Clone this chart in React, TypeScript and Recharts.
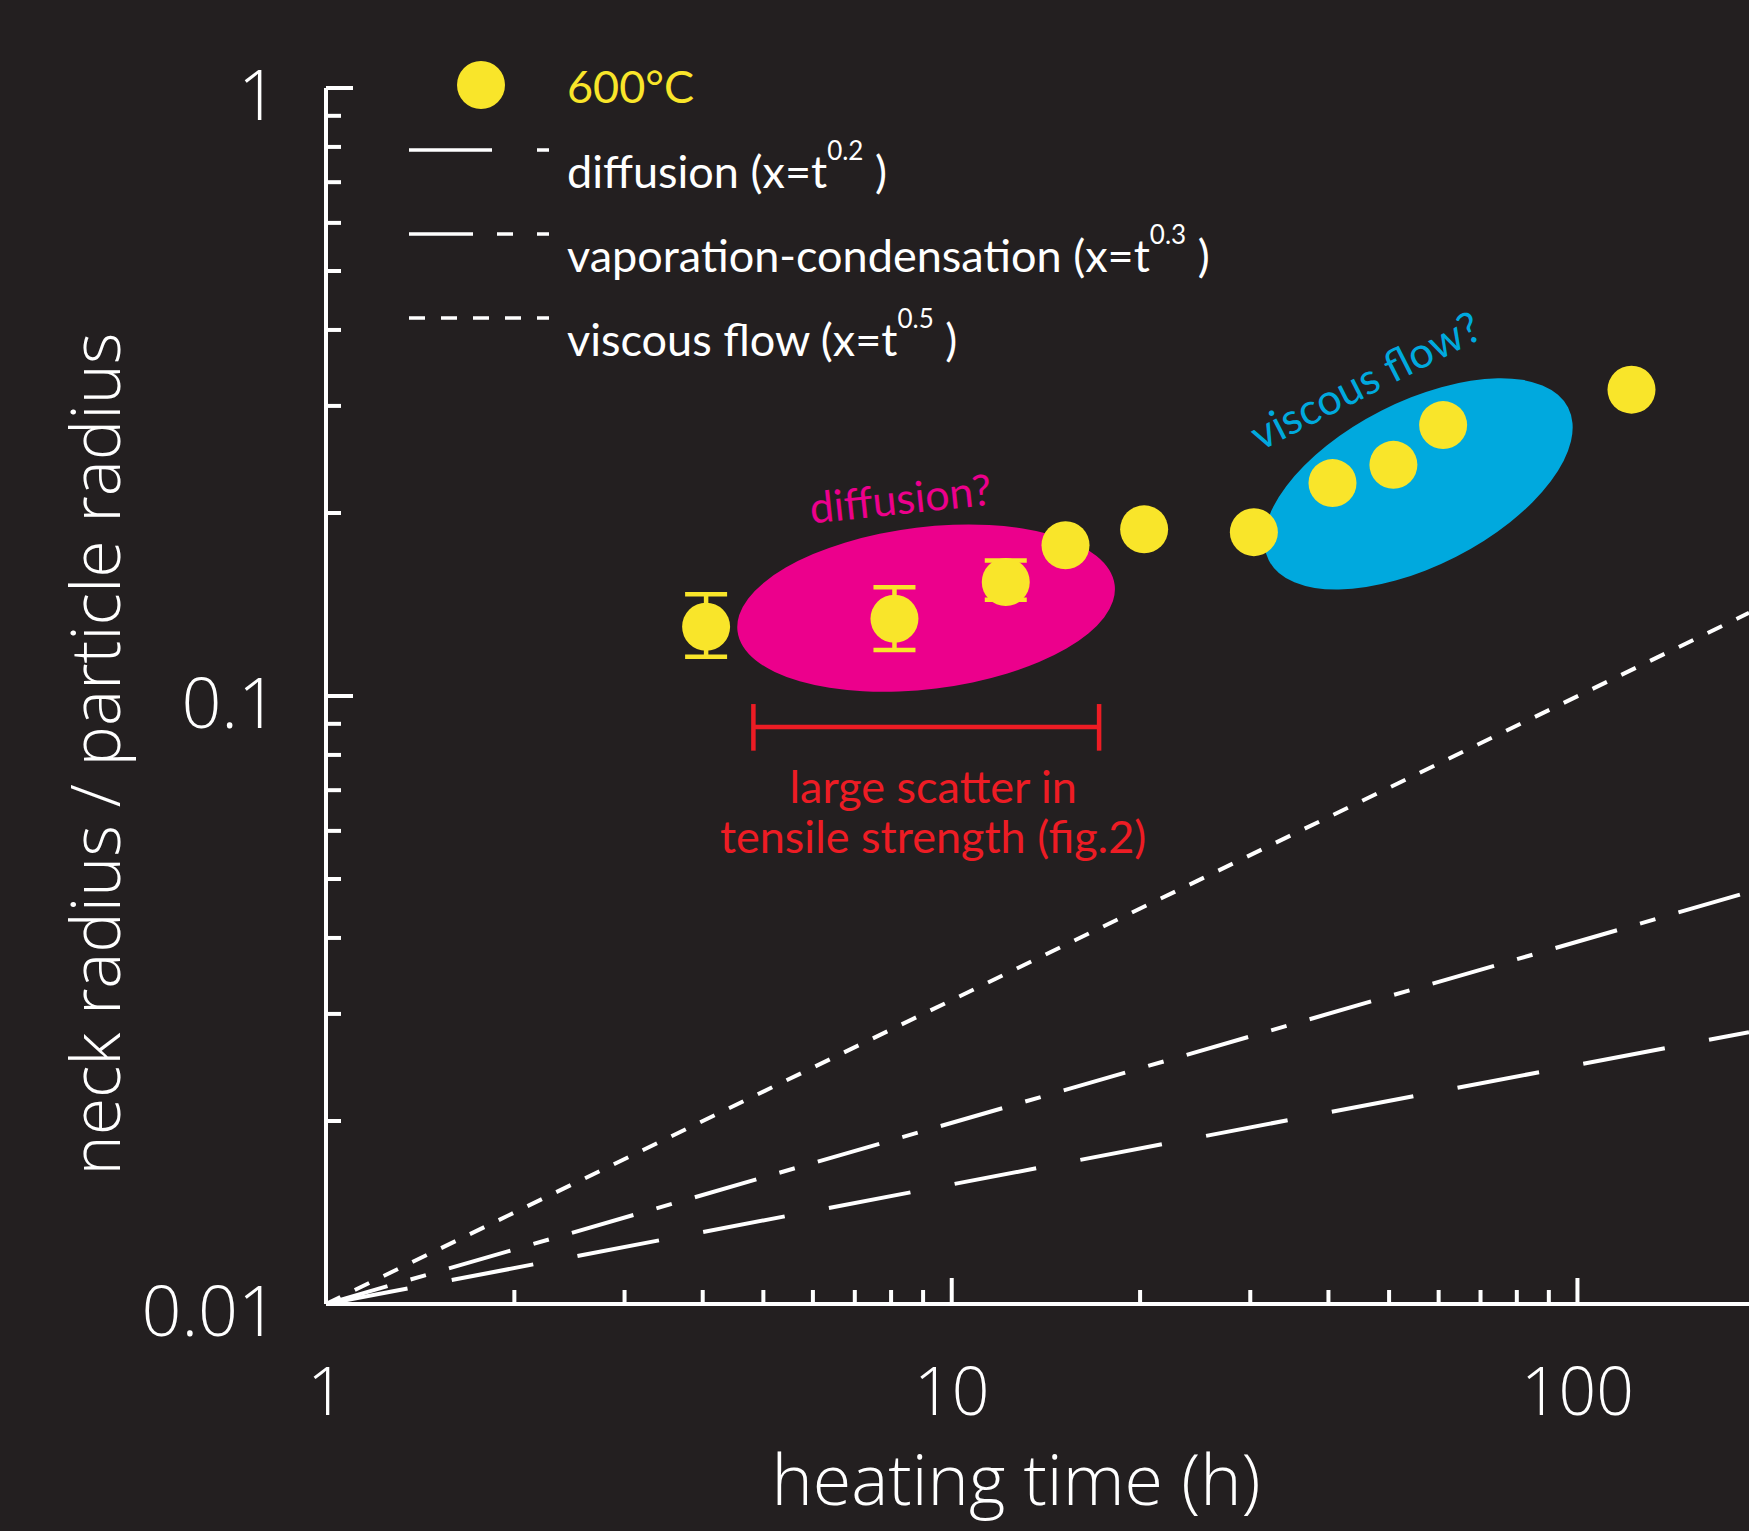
import React from 'react';
import {
  ComposedChart,
  XAxis,
  YAxis,
  Line,
  Scatter,
  ErrorBar,
  ReferenceLine,
  ReferenceDot,
  Legend,
} from 'recharts';

const BG = '#231f20';
const YELLOW = '#f9e52a';
const PINK = '#ec008c';
const CYAN = '#00a9de';
const RED = '#ed1c24';
const AXIS_FONT = '"Open Sans", "Noto Sans", sans-serif';
const NOTE_FONT = 'Lato, "Open Sans", sans-serif';

// 600°C points that carry an error bar
const errTime = [4.05, 8.1, 12.2];
const errRatio = [0.13, 0.134, 0.154];
const errLow = [0.014, 0.015, 0.01];
const errHigh = [0.017, 0.017, 0.013];

// 600°C points without error bar
const heatTime = [15.2, 20.3, 30.4, 40.6, 50.8, 61, 122];
const neckRatio = [0.177, 0.188, 0.186, 0.224, 0.24, 0.279, 0.319];

// model lines, read at both ends of the plot
const lineTime = [1, 188];
const diffusionRatio = [0.01, 0.028];
const vaporRatio = [0.01, 0.0476];
const viscousRatio = [0.01, 0.137];

// highlighted regions (centres) and annotation anchors
const regionTime = [9.1, 55.7];
const regionRatio = [0.1395, 0.2233];
const scatterRange = [4.82, 17.2];
const scatterLevel = 0.0889;
const scatterCap = [0.0813, 0.097];

const xTicks = [1, 2, 3, 4, 5, 6, 7, 8, 9, 10, 20, 30, 40, 50, 60, 70, 80, 90, 100];
const yTicks = [
  0.01, 0.02, 0.03, 0.04, 0.05, 0.06, 0.07, 0.08, 0.09,
  0.1, 0.2, 0.3, 0.4, 0.5, 0.6, 0.7, 0.8, 0.9, 1,
];

const legendNames = ['diffusion', 'vaporation-condensation', 'viscous flow'];
const legendExps = ['0.2', '0.3', '0.5'];
const dashes = ['83 45', '64 24 16 24', '16 16'];

const errData = errTime.map((t, i) => ({ t, r: errRatio[i], err: [errLow[i], errHigh[i]] }));
const pointData = heatTime.map((t, i) => ({ t, r: neckRatio[i] }));
const toLine = (vals: number[]) => lineTime.map((t, i) => ({ t, r: vals[i] }));
const modelLines = [toLine(diffusionRatio), toLine(vaporRatio), toLine(viscousRatio)];

const isMajor = (v: number) => Math.abs(Math.log10(v) - Math.round(Math.log10(v))) < 1e-6;

const XTick = (props: any) => {
  const { x, y, payload } = props;
  const major = isMajor(payload.value);
  return (
    <g>
      <line x1={x} y1={y} x2={x} y2={y - (major ? 26 : 14)} stroke="#fff" strokeWidth={4} />
      {major && (
        <text x={x} y={y + 111} textAnchor="middle" fill="#fff" fontSize={66} fontWeight={300} fontFamily={AXIS_FONT}>
          {String(payload.value)}
        </text>
      )}
    </g>
  );
};

const YTick = (props: any) => {
  const { x, y, payload } = props;
  const major = isMajor(payload.value);
  return (
    <g>
      <line x1={x} y1={y} x2={x + (major ? 27 : 15)} y2={y} stroke="#fff" strokeWidth={4} />
      {major && (
        <text x={x - 48} y={y + 32} textAnchor="end" fill="#fff" fontSize={70} fontWeight={300} fontFamily={AXIS_FONT}>
          {String(payload.value)}
        </text>
      )}
    </g>
  );
};

const XTitle = () => (
  <text x={1016} y={1505} textAnchor="middle" fill="#fff" fontSize={70} fontWeight={300} fontFamily={AXIS_FONT}>
    heating time (h)
  </text>
);

const YTitle = () => (
  <text
    x={120}
    y={754}
    transform="rotate(-90 120 754)"
    textAnchor="middle"
    fill="#fff"
    fontSize={68}
    fontWeight={300}
    fontFamily={AXIS_FONT}
  >
    neck radius / particle radius
  </text>
);

const LegendBox = () => (
  <svg width={1400} height={380} style={{ display: 'block' }}>
    <circle cx={481} cy={85} r={24} fill={YELLOW} />
    <text x={567} y={103} fill={YELLOW} fontSize={45} fontFamily={NOTE_FONT}>
      600°C
    </text>
    {legendNames.map((name, i) => {
      const y = 150 + i * 84;
      return (
        <g key={name}>
          <line x1={409} x2={549} y1={y} y2={y} stroke="#fff" strokeWidth={3.5} strokeDasharray={dashes[i]} />
          <text x={567} y={y + 38} fill="#fff" fontSize={45} fontFamily={NOTE_FONT}>
            {name} (x=t
            <tspan dy={-28} fontSize={26}>{legendExps[i]}</tspan>
            <tspan dy={28}> )</tspan>
          </text>
        </g>
      );
    })}
  </svg>
);

const ellipseShape = (rx: number, ry: number, angle: number, fill: string) => (props: any) => (
  <ellipse
    cx={props.cx}
    cy={props.cy}
    rx={rx}
    ry={ry}
    fill={fill}
    transform={`rotate(${angle} ${props.cx} ${props.cy})`}
  />
);

const dotShape = (props: any) => <circle cx={props.cx} cy={props.cy} r={24} fill={YELLOW} />;

const note = (lines: string[], color: string, angle: number, size: number) => (props: any) => (
  <text
    x={props.cx}
    y={props.cy}
    textAnchor="middle"
    fill={color}
    fontSize={size}
    fontFamily={NOTE_FONT}
    transform={`rotate(${angle} ${props.cx} ${props.cy})`}
  >
    {lines.map((l, i) => (
      <tspan key={l} x={props.cx} dy={i === 0 ? 0 : 50}>
        {l}
      </tspan>
    ))}
  </text>
);

export default function App() {
  return (
    <div style={{ position: 'absolute', left: 0, top: 0, width: 1749, height: 1531, background: BG, overflow: 'hidden' }}>
      <ComposedChart width={1749} height={1531} margin={{ top: 88, right: 0, bottom: 0, left: 0 }}>
        <XAxis
          dataKey="t"
          type="number"
          scale="log"
          domain={[1, 188]}
          allowDataOverflow
          ticks={xTicks}
          interval={0}
          tick={XTick}
          tickLine={false}
          tickSize={0}
          tickMargin={0}
          height={227}
          axisLine={{ stroke: '#fff', strokeWidth: 4 }}
          label={XTitle}
        />
        <YAxis
          dataKey="r"
          type="number"
          scale="log"
          domain={[0.01, 1]}
          allowDataOverflow
          ticks={yTicks}
          interval={0}
          tick={YTick}
          tickLine={false}
          tickSize={0}
          tickMargin={0}
          width={326}
          axisLine={{ stroke: '#fff', strokeWidth: 4 }}
          label={YTitle}
        />
        <Legend layout="vertical" align="center" verticalAlign="middle" content={LegendBox} wrapperStyle={{ left: 0, top: 0, width: 1400, height: 380 }} />

        <Scatter
          data={[{ t: regionTime[0], r: regionRatio[0] }]}
          dataKey="r"
          shape={ellipseShape(190, 81, -7, PINK)}
          isAnimationActive={false}
          legendType="none"
          zIndex={-50}
        />
        <Scatter
          data={[{ t: regionTime[1], r: regionRatio[1] }]}
          dataKey="r"
          shape={ellipseShape(168, 82, -27, CYAN)}
          isAnimationActive={false}
          legendType="none"
          zIndex={-50}
        />

        {modelLines.map((d, i) => (
          <Line
            key={legendNames[i]}
            data={d}
            dataKey="r"
            type="linear"
            stroke="#fff"
            strokeWidth={4}
            strokeDasharray={dashes[i]}
            dot={false}
            activeDot={false}
            isAnimationActive={false}
          />
        ))}

        <Scatter data={errData} dataKey="r" shape={dotShape} isAnimationActive={false}>
          <ErrorBar dataKey="err" direction="y" width={21} strokeWidth={4.5} stroke={YELLOW} />
        </Scatter>
        <Scatter data={pointData} dataKey="r" shape={dotShape} isAnimationActive={false} />

        <ReferenceLine
          segment={[{ x: scatterRange[0], y: scatterLevel }, { x: scatterRange[1], y: scatterLevel }]}
          stroke={RED}
          strokeWidth={4.5}
        />
        <ReferenceLine
          segment={[{ x: scatterRange[0], y: scatterCap[0] }, { x: scatterRange[0], y: scatterCap[1] }]}
          stroke={RED}
          strokeWidth={4.5}
        />
        <ReferenceLine
          segment={[{ x: scatterRange[1], y: scatterCap[0] }, { x: scatterRange[1], y: scatterCap[1] }]}
          stroke={RED}
          strokeWidth={4.5}
        />

        <ReferenceDot x={8.33} y={0.1992} r={0} shape={note(['diffusion?'], PINK, -6, 43)} />
        <ReferenceDot x={47} y={0.3138} r={0} shape={note(['viscous flow?'], CYAN, -27, 43)} />
        <ReferenceDot x={9.34} y={0.0667} r={0} shape={note(['large scatter in', 'tensile strength (fig.2)'], RED, 0, 45)} />
      </ComposedChart>
    </div>
  );
}
